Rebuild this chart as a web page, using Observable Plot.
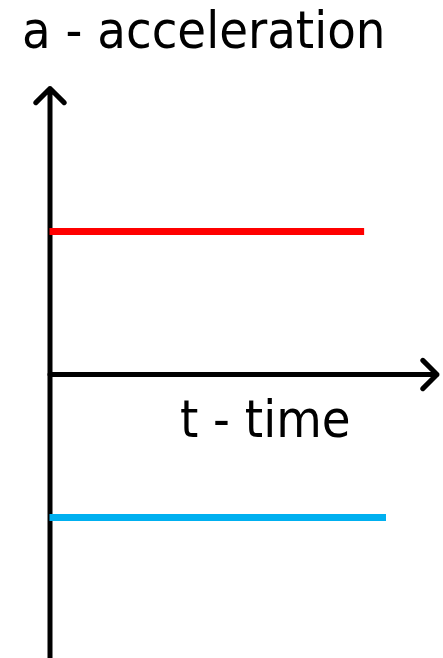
<!DOCTYPE html>
<html>
<head>
<meta charset="utf-8">
<script src="https://cdn.jsdelivr.net/npm/d3@7"></script>
<script src="https://cdn.jsdelivr.net/npm/@observablehq/plot@0.6"></script>
<style>
  html, body { margin: 0; padding: 0; background: #fff; }
  #chart { width: 443px; height: 658px; overflow: hidden; }
  #title {
    height: 62px;
    box-sizing: border-box;
    padding-left: 22px;
    padding-top: 4px;
    font-family: "DejaVu Sans Condensed", "DejaVu Sans", sans-serif;
    font-size: 52px;
    line-height: 52px;
    color: #000;
    white-space: nowrap;
  }
  svg { display: block; }
</style>
</head>
<body>
<div id="chart">
  <div id="title">a - acceleration</div>
</div>
<script>
// Two motions with constant acceleration: one speeding up (a > 0), one slowing down (a < 0)
const seriesNames = ["a > 0", "a < 0"];
const accelValues = [1, -1];          // acceleration, arbitrary units
const endTimes = [9.35, 10];          // time at which each line stops
const seriesColors = ["#ff0000", "#00b0f0"];

// Axis extents (arrow tips)
const timeAxisEnd = 11.5;
const accelAxisRange = [-2, 2.0];

// Axis label for time
const timeLabel = "t - time";
const timeLabelAt = 3.86;

const lines = seriesNames.map((name, i) => ({
  name,
  a: accelValues[i],
  t1: endTimes[i],
  color: seriesColors[i]
}));

const width = 443;
const height = 596;

const chart = Plot.plot({
  width,
  height,
  margin: 0,
  x: { domain: [0, 10], range: [49.5, 386], axis: null },
  y: { domain: [-1, 1], range: [455, 169], axis: null },
  style: { background: "#fff", overflow: "visible" },
  marks: [
    // vertical (acceleration) axis with arrow head
    Plot.arrow([{ x1: 0, x2: 0, y1: accelAxisRange[0], y2: accelAxisRange[1] }], {
      x1: "x1", x2: "x2", y1: "y1", y2: "y2",
      stroke: "#000", strokeWidth: 5, headLength: 6, headAngle: 90
    }),
    // horizontal (time) axis with arrow head
    Plot.arrow([{ x1: 0, x2: timeAxisEnd, y1: 0, y2: 0 }], {
      x1: "x1", x2: "x2", y1: "y1", y2: "y2",
      stroke: "#000", strokeWidth: 5, headLength: 6, headAngle: 90
    }),
    // constant-acceleration lines
    Plot.ruleY(lines, {
      y: "a", x1: 0, x2: "t1",
      stroke: "color", strokeWidth: 7
    }),
    Plot.text([{ t: timeLabelAt, a: 0 }], {
      x: "t", y: "a", text: () => timeLabel,
      textAnchor: "start", lineAnchor: "bottom", dy: 62,
      fontSize: 52, fill: "#000",
      fontFamily: "DejaVu Sans Condensed, DejaVu Sans, sans-serif"
    })
  ]
});

document.getElementById("chart").appendChild(chart);
</script>
</body>
</html>
